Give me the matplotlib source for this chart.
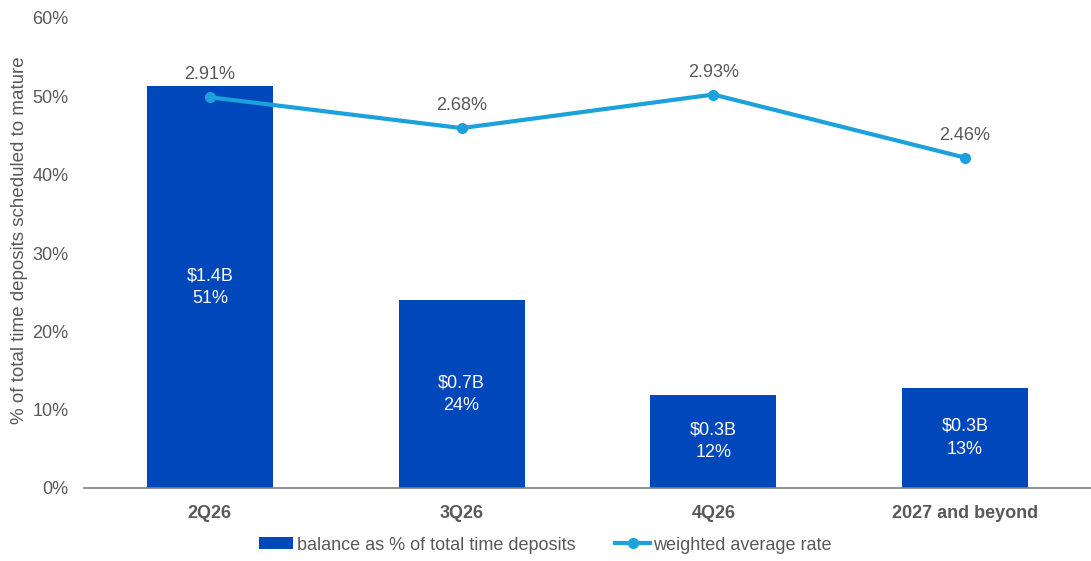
import matplotlib
matplotlib.use("Agg")
import matplotlib.pyplot as plt
from matplotlib.ticker import PercentFormatter

plt.rcParams['font.family'] = ['Liberation Sans', 'DejaVu Sans']

# data
categories = ['2Q26', '3Q26', '4Q26', '2027 and beyond']
balance_pct = [51.3, 24.0, 11.9, 12.8]
balance_labels = ['$1.4B\n51%', '$0.7B\n24%', '$0.3B\n12%', '$0.3B\n13%']
rates = [2.91, 2.68, 2.93, 2.46]
rate_labels = ['2.91%', '2.68%', '2.93%', '2.46%']

bar_color = '#0047BB'
line_color = '#1BA1DB'
gray = '#595959'
fs = 13

fig = plt.figure(figsize=(10.91, 5.61), dpi=100)
ax = fig.add_axes([84 / 1091, 1 - 488 / 561, 1 - 84 / 1091, (488 - 18) / 561])

x = list(range(len(categories)))
bars = ax.bar(x, balance_pct, width=0.5, color=bar_color,
              label='balance as % of total time deposits', zorder=2)
for xi, h, lab in zip(x, balance_pct, balance_labels):
    ax.text(xi, h / 2, lab, ha='center', va='center', color='white',
            fontsize=fs, linespacing=1.45, zorder=3)

ax.set_xlim(-0.5, 3.5)
ax.set_ylim(0, 60)
ax.set_yticks(range(0, 61, 10))
ax.yaxis.set_major_formatter(PercentFormatter(decimals=0))
ax.set_xticks(x)
ax.set_xticklabels(categories, fontweight='bold')
ax.tick_params(axis='both', length=0, colors=gray, labelsize=fs)
ax.tick_params(axis='x', pad=12)
ax.tick_params(axis='y', pad=11)
for side in ['top', 'right', 'left']:
    ax.spines[side].set_visible(False)
ax.spines['bottom'].set_color('#7f7f7f')
ax.spines['bottom'].set_linewidth(1.2)
ax.set_ylabel('% of total time deposits scheduled to mature', color=gray,
              fontsize=13.5, va='center')
ax.yaxis.set_label_coords(-0.064, 0.528)

ax2 = ax.twinx()
ax2.set_ylim(0, 3.5)
ln, = ax2.plot(x, rates, color=line_color, linewidth=3, marker='o',
               markersize=7, label='weighted average rate', zorder=4)
for xi, r, lab in zip(x, rates, rate_labels):
    ax2.annotate(lab, (xi, r), xytext=(0, 10), textcoords='offset points',
                 ha='center', va='bottom', color=gray, fontsize=fs)
ax2.axis('off')

fig.legend([bars, ln], ['balance as % of total time deposits', 'weighted average rate'],
           loc='center', bbox_to_anchor=(0.5, 1 - 545 / 561), ncol=2, frameon=False,
           fontsize=fs, labelcolor=gray, handlelength=1.9, handleheight=0.6,
           handletextpad=0.2, columnspacing=2.2)

fig.savefig('out.png', dpi=100)
